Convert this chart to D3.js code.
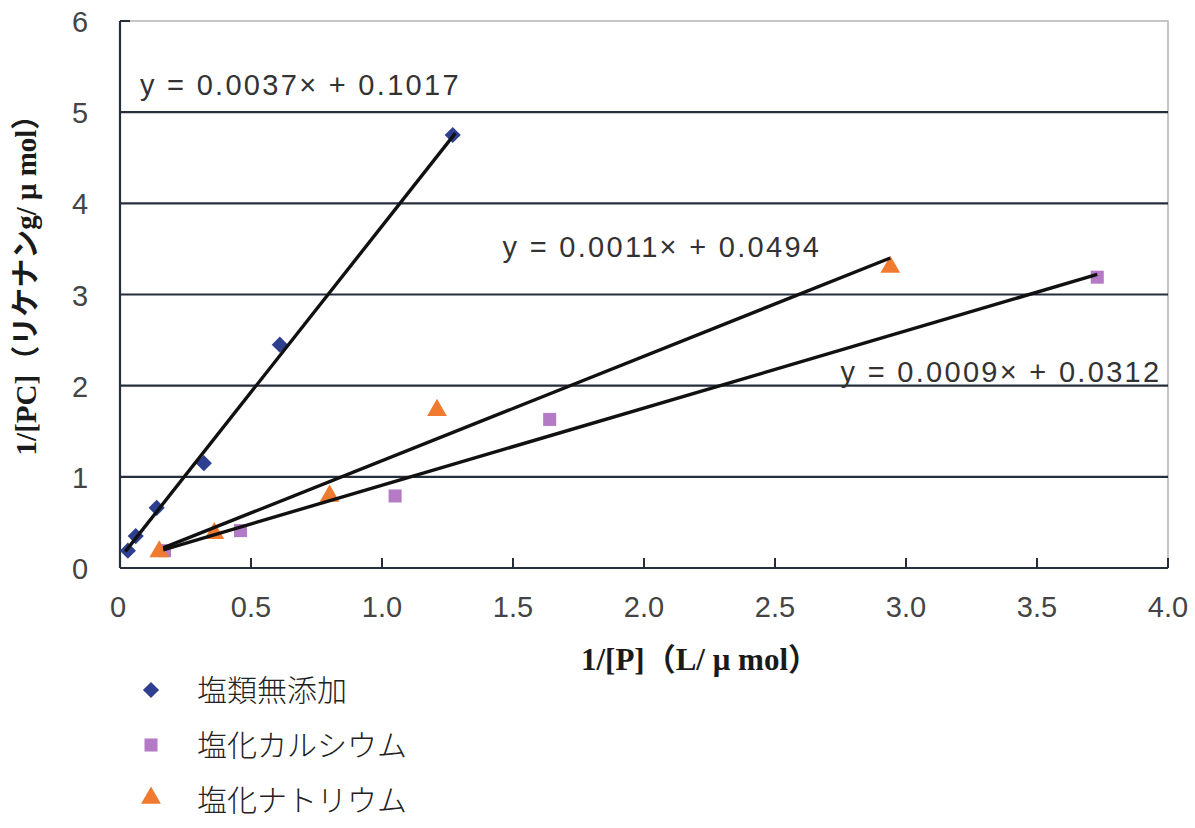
<!DOCTYPE html>
<html><head><meta charset="utf-8">
<script src="https://cdn.jsdelivr.net/npm/d3@7"></script>
<style>
html,body{margin:0;padding:0;background:#fff;}
svg{display:block;}
</style></head>
<body>
<svg id="chart" width="1195" height="828"></svg>
<script>
// ---- data ----
const seriesNames = ["塩類無添加", "塩化カルシウム", "塩化ナトリウム"];
const noSaltX = [0.03, 0.06, 0.14, 0.32, 0.61, 1.27];
const noSaltY = [0.19, 0.35, 0.66, 1.15, 2.45, 4.75];
const caclX = [0.17, 0.46, 1.05, 1.64, 3.73];
const caclY = [0.19, 0.41, 0.79, 1.63, 3.19];
const naclX = [0.15, 0.36, 0.80, 1.21, 2.94];
const naclY = [0.18, 0.38, 0.79, 1.73, 3.30];
// trend line end points (as drawn)
const noSaltTrendX = [0.02, 1.28];
const noSaltTrendY = [0.18, 4.77];
const caclTrendX = [0.165, 3.73];
const caclTrendY = [0.20, 3.22];
const naclTrendX = [0.165, 2.94];
const naclTrendY = [0.22, 3.40];
const equations = ["y = 0.0037× + 0.1017", "y = 0.0011× + 0.0494", "y = 0.0009× + 0.0312"];
const xTicks = [0, 0.5, 1.0, 1.5, 2.0, 2.5, 3.0, 3.5, 4.0];
const xTickLabels = ["0", "0.5", "1.0", "1.5", "2.0", "2.5", "3.0", "3.5", "4.0"];
const yTicks = [0, 1, 2, 3, 4, 5, 6];
const xTitle = "1/[P]（L/ μ mol）";
const yTitle = "1/[PC]（リケナンg/ μ mol）";

// ---- layout ----
const svg = d3.select("#chart");
const L = 120, R = 1168, T = 21, B = 568;
const x = d3.scaleLinear().domain([0, 4]).range([L, R]);
const y = d3.scaleLinear().domain([0, 6]).range([B, T]);

const gridColor = "#262e3c";

svg.append("path")
  .attr("d", `M${L},${T}H${R}V${B}`)
  .attr("fill", "none").attr("stroke", "#b4b4b4").attr("stroke-width", 1.5);

svg.append("g").selectAll("line").data(yTicks.filter(d => d > 0 && d < 6)).join("line")
  .attr("x1", L).attr("x2", R)
  .attr("y1", d => y(d)).attr("y2", d => y(d))
  .attr("stroke", gridColor).attr("stroke-width", 2.2);
svg.append("line").attr("x1", L).attr("x2", L + 10).attr("y1", y(6)).attr("y2", y(6))
  .attr("stroke", gridColor).attr("stroke-width", 2);

svg.append("line").attr("x1", L).attr("x2", L).attr("y1", T).attr("y2", B)
  .attr("stroke", gridColor).attr("stroke-width", 2.2);
svg.append("line").attr("x1", L).attr("x2", R).attr("y1", B).attr("y2", B)
  .attr("stroke", gridColor).attr("stroke-width", 2.2);

svg.append("g").selectAll("line").data(xTicks.slice(1)).join("line")
  .attr("x1", d => x(d)).attr("x2", d => x(d))
  .attr("y1", B).attr("y2", B - 10)
  .attr("stroke", gridColor).attr("stroke-width", 2);

const tickFont = "'Liberation Sans', Arial, sans-serif";
svg.append("g").selectAll("text").data(xTicks).join("text")
  .attr("x", (d, i) => x(d) - (i === 0 ? 2 : 0))
  .attr("y", 617)
  .attr("text-anchor", "middle")
  .attr("font-family", tickFont).attr("font-size", 29)
  .attr("fill", "#444")
  .text((d, i) => xTickLabels[i]);

svg.append("g").selectAll("text").data(yTicks).join("text")
  .attr("x", 80).attr("y", d => y(d) + 11)
  .attr("text-anchor", "middle")
  .attr("font-family", tickFont).attr("font-size", 29)
  .attr("fill", "#444")
  .text(d => d);

svg.append("text")
  .attr("x", 700).attr("y", 670)
  .attr("text-anchor", "middle")
  .attr("font-family", "'Liberation Serif', 'Noto Sans CJK JP', serif")
  .attr("font-weight", "bold").attr("font-size", 31)
  .attr("fill", "#1a1a1a")
  .text(xTitle);
svg.append("text")
  .attr("transform", "translate(36,278) rotate(-90)")
  .attr("text-anchor", "middle")
  .attr("font-family", "'Liberation Serif', 'Noto Sans CJK JP', serif")
  .attr("font-weight", "bold").attr("font-size", 29)
  .attr("fill", "#1a1a1a")
  .text(yTitle);

const trends = [
  [noSaltTrendX, noSaltTrendY],
  [caclTrendX, caclTrendY],
  [naclTrendX, naclTrendY]
];
const lineGen = d3.line().x(d => x(d[0])).y(d => y(d[1]));

const colors = ["#2e3f8f", "#b57ac6", "#f07a30"];
const symbols = [d3.symbolSquare, d3.symbolSquare, d3.symbolTriangle];
const rotations = [45, 0, 0];
const sizes = [130, 170, 170];
const seriesData = [
  d3.zip(noSaltX, noSaltY),
  d3.zip(caclX, caclY),
  d3.zip(naclX, naclY)
];
seriesData.forEach((pts, i) => {
  svg.append("g").selectAll("path").data(pts).join("path")
    .attr("transform", d => `translate(${x(d[0])},${y(d[1])}) rotate(${rotations[i]})`)
    .attr("d", d3.symbol().type(symbols[i]).size(sizes[i]))
    .attr("fill", colors[i]);
});

trends.forEach(([tx, ty]) => {
  svg.append("path")
    .attr("d", lineGen(d3.zip(tx, ty)))
    .attr("fill", "none").attr("stroke", "#111").attr("stroke-width", 3.4);
});

const eqPos = [[0.076, 5.19], [1.46, 3.41], [2.75, 2.04]];
svg.append("g").selectAll("text").data(equations).join("text")
  .attr("x", (d, i) => x(eqPos[i][0]))
  .attr("y", (d, i) => y(eqPos[i][1]))
  .attr("font-family", tickFont).attr("font-size", 29)
  .attr("letter-spacing", 2.3)
  .attr("fill", "#333")
  .text(d => d);

const legY = [690, 745, 800];
const legG = svg.append("g");
seriesNames.forEach((name, i) => {
  legG.append("path")
    .attr("transform", `translate(151,${legY[i] - (i === 2 ? 2 : 0)}) rotate(${rotations[i]})`)
    .attr("d", d3.symbol().type(symbols[i]).size(sizes[i]))
    .attr("fill", colors[i]);
  legG.append("text")
    .attr("x", 197).attr("y", legY[i] + 11)
    .attr("font-family", "'Noto Sans CJK JP', sans-serif")
    .attr("font-size", 30).attr("font-weight", 300)
    .attr("fill", "#222")
    .text(name);
});
</script>
</body></html>
